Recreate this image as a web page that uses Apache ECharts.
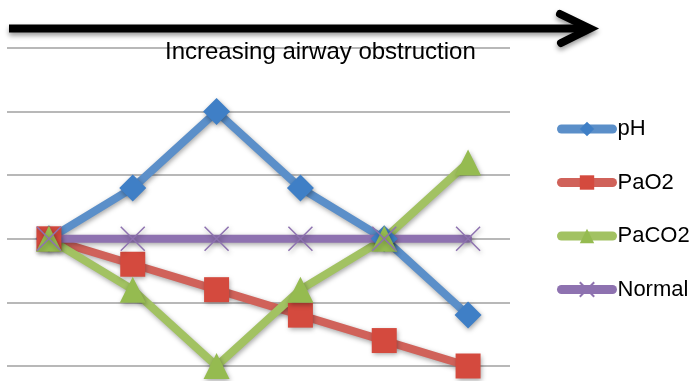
<!DOCTYPE html>
<html>
<head>
<meta charset="utf-8">
<script src="https://cdn.jsdelivr.net/npm/echarts@6/dist/echarts.min.js"></script>
<style>
  html, body { margin: 0; padding: 0; background: #fff; }
  #chart { width: 695px; height: 381px; }
</style>
</head>
<body>
<div id="chart"></div>
<script>
// Stages of obstruction (unlabelled on the axis)
const stages = ['1', '2', '3', '4', '5', '6'];
// Relative levels, in gridline steps
const pH     = [2, 2.8, 4, 2.8, 2, 0.8];
const paO2   = [2, 1.6, 1.2, 0.8, 0.4, 0];
const paCO2  = [2, 1.2, 0, 1.2, 2, 3.2];
const normal = [2, 2, 2, 2, 2, 2];

const shadow = { shadowBlur: 5, shadowColor: 'rgba(0,0,0,0.35)', shadowOffsetY: 2, shadowOffsetX: 1 };

function lineSeries(name, data, lineColor, markColor, symbol, size, extraItem) {
  return {
    name, type: 'line', data, symbol, symbolSize: size, clip: false,
    lineStyle: Object.assign({ color: lineColor, width: 8, cap: 'round', join: 'round' }, shadow),
    itemStyle: Object.assign({ color: markColor }, shadow, extraItem || {}),
    emphasis: { disabled: true },
    animation: false
  };
}

const arrowStyle = { stroke: '#000', lineWidth: 8, fill: 'none', shadowBlur: 5, shadowColor: 'rgba(0,0,0,0.4)', shadowOffsetY: 3 };

const chart = echarts.init(document.getElementById('chart'));
chart.setOption({
  animation: false,
  grid: { left: 7, right: 185, top: 48, bottom: 15 },
  xAxis: {
    type: 'category', data: stages, boundaryGap: true,
    axisLine: { show: false }, axisTick: { show: false }, axisLabel: { show: false }
  },
  yAxis: {
    type: 'value', min: 0, max: 5, interval: 1,
    axisLine: { show: false }, axisTick: { show: false }, axisLabel: { show: false },
    splitLine: { show: true, lineStyle: { color: '#a0a0a0', width: 1.5 } }
  },
  legend: {
    orient: 'vertical', left: 557, top: 118, padding: 0,
    itemWidth: 51, itemHeight: 18, itemGap: 31.5,
    lineStyle: { width: 9, cap: 'round' },
    textStyle: { fontFamily: 'Liberation Sans', fontSize: 22, color: '#000' },
    data: ['pH', 'PaO2', 'PaCO2', 'Normal']
  },
  graphic: [
    {
      type: 'line', shape: { x1: 9, y1: 28.5, x2: 588, y2: 28.5 },
      style: Object.assign({}, arrowStyle, { lineCap: 'butt' })
    },
    {
      type: 'polyline', shape: { points: [[560, 14], [590, 28.5], [561, 43]] },
      style: Object.assign({}, arrowStyle, { lineCap: 'round', lineJoin: 'miter' })
    },
    {
      type: 'text', x: 165, y: 52.5, z: 10,
      style: { text: 'Increasing airway obstruction', fontFamily: 'Liberation Sans', fontSize: 24, fill: '#000', verticalAlign: 'middle', align: 'left' }
    }
  ],
  series: [
    lineSeries('pH', pH, '#5b8fc9', '#3f7fc6', 'diamond', 27),
    lineSeries('PaO2', paO2, '#d0625a', '#d44a3e', 'rect', 25),
    lineSeries('PaCO2', paCO2, '#a2c262', '#95bb50', 'triangle', 26),
    lineSeries('Normal', normal, '#8e72b0', 'none', 'path://M0,0L10,10M10,0L0,10', 24,
      { borderColor: '#8e72b0', borderWidth: 1.5 })
  ]
});
</script>
</body>
</html>
